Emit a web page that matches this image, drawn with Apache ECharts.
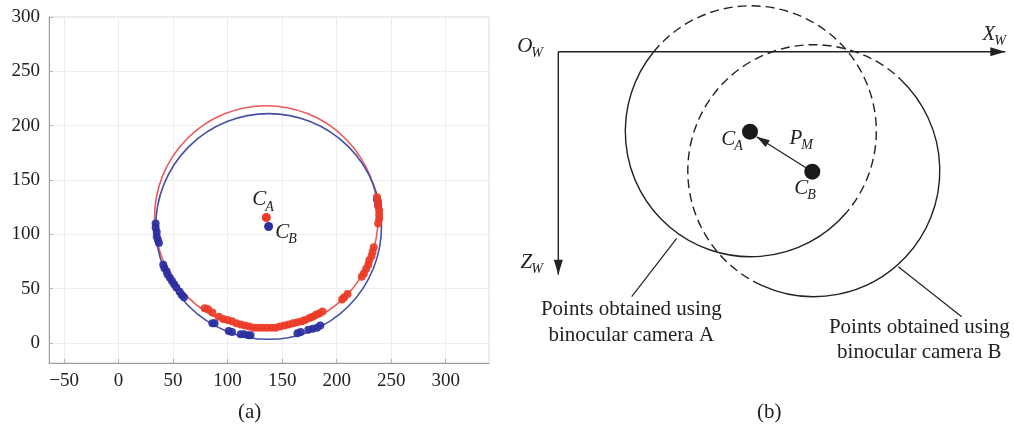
<!DOCTYPE html>
<html>
<head>
<meta charset="utf-8">
<script src="https://cdn.jsdelivr.net/npm/echarts@6/dist/echarts.min.js"></script>
<style>
html,body{margin:0;padding:0;background:#fff;}
#main{width:1014px;height:434px;}
</style>
</head>
<body>
<div id="main"></div>
<script>
// ---------- (a) measured points and fitted circles ----------
var fitA = [[135.5, 115.4, 102.5]];   // cx, cy, r  (camera A, red)
var fitB = [[137.6, 107.2, 103.5]];   // camera B, blue
var centreA = [[135.5, 115.4]];
var centreB = [[137.6, 107.2]];
var ptsA = [
  [237,134],[238,130],[238,126],[239,122],[239,118],[239,114],[238,110],
  [234,88],[233,84],[232,80],[230,76],[229,72],[227,68],[225,64],[223,61],
  [210,45],[207,42],[205,40],
  [187,29],[184,27],[181,26],[178,24],[175,23],[171,21],[168,20],[164,19],[160,18],
  [156,17],[152,16],[148,15],[144,14],[140,14],[136,14],[132,14],[128,14],[124,14],
  [120,15],[116,16],[112,17],[108,18],[104,20],[100,21],[96,22],[92,24],
  [86,28],[82,31],[79,32]
];
var ptsB = [
  [237,132],[238,127],
  [34,110],[34,106],[35,102],[35,98],[36,95],[37,92],
  [41,72],[42,69],[44,66],[45,63],[47,60],[49,57],[51,54],[53,51],[56,47],[58,44],[60,42],
  [86,18],[88,18],[101,11],[104,10],[112,8],[115,8],[119,7],[121,7],
  [164,9],[167,10],[174,12],[178,13],[182,14],[185,16]
];
var labelsA = [[135.5,131.7,'C','A'],[156.6,101.4,'C','B']];

// ---------- (b) schematic, frame with O_W at (0,0), Z_W downwards ----------
var worldAxes = [[0,0,447,0],[0,0,0,223]];
var axisNames = [[-26,-5,'O','W'],[437,-17,'X','W'],[-26,211,'Z','W']];
// cx, cz, r, solid arc from/to (deg), dashed arc from/to (deg)
var rings = [[192.5,79.6,125.5,40.5,219.2,-140.8,40.5],[255.5,119,126,-46.6,114.7,114.7,313.4]];
var centres = [[191.7,80],[254,120]];
var shiftPM = [[254,120,198.4,85]];
var leaders = [[118.4,186.6,73.4,245],[340,215,403.4,265]];
var pointNames = [[177,88,'C','A'],[244,87,'P','M'],[250,137,'C','B']];
var notes = [
  [73,258,'Points obtained using'],[73,284,'binocular camera A'],
  [361,276,'Points obtained using'],[361,301,'binocular camera B']
];

var SERIF = '"Liberation Serif","DejaVu Serif",serif';
var INK = '#222';
var D2R = Math.PI / 180;

var chart = echarts.init(document.getElementById('main'));

function fmtTick(v){ return v < 0 ? '\u2212' + (-v) : String(v); }

function subLabel(p, main, sub, big, small, drop){
  return [
    {type:'text', x:p[0], y:p[1], style:{text:main, font:'italic ' + big + 'px ' + SERIF, fill:INK,
      align:'right', verticalAlign:'middle', textAlign:'right', textVerticalAlign:'middle'}},
    {type:'text', x:p[0] - 1, y:p[1] + drop, style:{text:sub, font:'italic ' + small + 'px ' + SERIF, fill:INK,
      align:'left', verticalAlign:'middle', textAlign:'left', textVerticalAlign:'middle'}}
  ];
}

function arrowHead(x1, y1, x2, y2, len, half){
  var dx = x2 - x1, dy = y2 - y1, L = Math.sqrt(dx*dx + dy*dy);
  var ux = dx / L, uy = dy / L;
  var bx = x2 - ux*len, by = y2 - uy*len;
  return [[x2, y2], [bx - uy*half, by + ux*half], [bx + uy*half, by - ux*half]];
}

var option = {
  backgroundColor: '#fff',
  animation: false,
  grid: [
    {left:49, top:17, width:440, height:346, show:true, borderColor:'#d4d4d4', borderWidth:1},
    {left:500, top:0, width:514, height:434}
  ],
  xAxis: [
    {type:'value', gridIndex:0, min:-63.8, max:339.7, splitNumber:8,
     axisLine:{show:true, onZero:false, lineStyle:{color:'#9a9a9a'}},
     axisTick:{show:true, inside:true, length:4, lineStyle:{color:'#b5b5b5'}},
     axisLabel:{fontFamily:SERIF, fontSize:19, color:INK, margin:9, showMinLabel:false, showMaxLabel:false, formatter:fmtTick},
     splitLine:{show:true, lineStyle:{color:'#ededed'}}},
    {type:'value', gridIndex:1, min:-58.3, max:455.7, show:false}
  ],
  yAxis: [
    {type:'value', gridIndex:0, min:-18.5, max:300, splitNumber:6,
     axisLine:{show:true, onZero:false, lineStyle:{color:'#9a9a9a'}},
     axisTick:{show:true, inside:true, length:4, lineStyle:{color:'#b5b5b5'}},
     axisLabel:{fontFamily:SERIF, fontSize:19, color:INK, margin:9, showMinLabel:false, formatter:fmtTick},
     splitLine:{show:true, lineStyle:{color:'#ededed'}}},
    {type:'value', gridIndex:1, min:-51.7, max:382.3, inverse:true, show:false}
  ],
  series: [
    // fitted circles
    {type:'custom', xAxisIndex:0, yAxisIndex:0, data:fitA, encode:{x:0, y:1}, z:2,
     renderItem:function(params, api){
       var c = api.coord([api.value(0), api.value(1)]);
       var r = api.size([api.value(2), 0])[0];
       return {type:'circle', shape:{cx:c[0], cy:c[1], r:r}, style:{fill:null, stroke:'#ee5a5a', lineWidth:1.6}};
     }},
    {type:'custom', xAxisIndex:0, yAxisIndex:0, data:fitB, encode:{x:0, y:1}, z:2,
     renderItem:function(params, api){
       var c = api.coord([api.value(0), api.value(1)]);
       var r = api.size([api.value(2), 0])[0];
       return {type:'circle', shape:{cx:c[0], cy:c[1], r:r}, style:{fill:null, stroke:'#4450a8', lineWidth:1.6}};
     }},
    {type:'scatter', xAxisIndex:0, yAxisIndex:0, data:ptsB, symbolSize:8, z:3,
     itemStyle:{color:'#2d2f9e', opacity:0.92}},
    {type:'scatter', xAxisIndex:0, yAxisIndex:0, data:ptsA, symbolSize:8, z:3,
     itemStyle:{color:'#ec3b26', opacity:0.92}},
    {type:'scatter', xAxisIndex:0, yAxisIndex:0, data:centreA, symbolSize:9, z:4, itemStyle:{color:'#ec3b26', opacity:1}},
    {type:'scatter', xAxisIndex:0, yAxisIndex:0, data:centreB, symbolSize:9, z:4, itemStyle:{color:'#2d2f9e', opacity:1}},
    {type:'custom', xAxisIndex:0, yAxisIndex:0, data:labelsA, encode:{x:0, y:1}, z:5,
     renderItem:function(params, api){
       var p = api.coord([api.value(0), api.value(1)]);
       return {type:'group', children:subLabel(p, api.value(2), api.value(3), 21, 14, 7)};
     }},

    // ---------- (b) ----------
    {type:'custom', xAxisIndex:1, yAxisIndex:1, data:worldAxes, encode:{x:0, y:1},
     renderItem:function(params, api){
       var a = api.coord([api.value(0), api.value(1)]);
       var b = api.coord([api.value(2), api.value(3)]);
       var head = arrowHead(a[0], a[1], b[0], b[1], 15, 4.5);
       return {type:'group', children:[
         {type:'line', shape:{x1:a[0], y1:a[1], x2:b[0], y2:b[1]}, style:{stroke:INK, lineWidth:1.4}},
         {type:'polygon', shape:{points:head}, style:{fill:INK}}
       ]};
     }},
    {type:'custom', xAxisIndex:1, yAxisIndex:1, data:axisNames, encode:{x:0, y:1},
     renderItem:function(params, api){
       var p = api.coord([api.value(0), api.value(1)]);
       return {type:'group', children:subLabel(p, api.value(2), api.value(3), 21, 14, 7)};
     }},
    {type:'custom', xAxisIndex:1, yAxisIndex:1, data:rings, encode:{x:0, y:1},
     renderItem:function(params, api){
       var c = api.coord([api.value(0), api.value(1)]);
       var r = api.size([api.value(2), 0])[0];
       return {type:'group', children:[
         {type:'arc', shape:{cx:c[0], cy:c[1], r:r, startAngle:api.value(3)*D2R, endAngle:api.value(4)*D2R, clockwise:true},
          style:{fill:null, stroke:INK, lineWidth:1.4}},
         {type:'arc', shape:{cx:c[0], cy:c[1], r:r, startAngle:api.value(5)*D2R, endAngle:api.value(6)*D2R, clockwise:true},
          style:{fill:null, stroke:INK, lineWidth:1.4, lineDash:[9,5]}}
       ]};
     }},
    {type:'custom', xAxisIndex:1, yAxisIndex:1, data:leaders, encode:{x:0, y:1},
     renderItem:function(params, api){
       var a = api.coord([api.value(0), api.value(1)]);
       var b = api.coord([api.value(2), api.value(3)]);
       return {type:'line', shape:{x1:a[0], y1:a[1], x2:b[0], y2:b[1]}, style:{stroke:INK, lineWidth:1.2}};
     }},
    {type:'custom', xAxisIndex:1, yAxisIndex:1, data:shiftPM, encode:{x:0, y:1},
     renderItem:function(params, api){
       var a = api.coord([api.value(0), api.value(1)]);
       var b = api.coord([api.value(2), api.value(3)]);
       var head = arrowHead(a[0], a[1], b[0], b[1], 13, 4);
       return {type:'group', children:[
         {type:'line', shape:{x1:a[0], y1:a[1], x2:b[0], y2:b[1]}, style:{stroke:INK, lineWidth:1.3}},
         {type:'polygon', shape:{points:head}, style:{fill:INK}}
       ]};
     }},
    {type:'scatter', xAxisIndex:1, yAxisIndex:1, data:centres, symbolSize:16, z:4, itemStyle:{color:'#1a1a1a', opacity:1}},
    {type:'custom', xAxisIndex:1, yAxisIndex:1, data:pointNames, encode:{x:0, y:1}, z:5,
     renderItem:function(params, api){
       var p = api.coord([api.value(0), api.value(1)]);
       return {type:'group', children:subLabel(p, api.value(2), api.value(3), 21, 14, 7)};
     }},
    {type:'custom', xAxisIndex:1, yAxisIndex:1, data:notes, encode:{x:0, y:1},
     renderItem:function(params, api){
       var p = api.coord([api.value(0), api.value(1)]);
       return {type:'text', x:p[0], y:p[1], style:{text:api.value(2), font:'21px ' + SERIF, fill:INK,
         align:'center', verticalAlign:'middle', textAlign:'center', textVerticalAlign:'middle'}};
     }}
  ],
  graphic: [
    {type:'text', left:238, top:402, style:{text:'(a)', font:'21px ' + SERIF, fill:INK}},
    {type:'text', left:757, top:402, style:{text:'(b)', font:'21px ' + SERIF, fill:INK}}
  ]
};
chart.setOption(option);
</script>
</body>
</html>
